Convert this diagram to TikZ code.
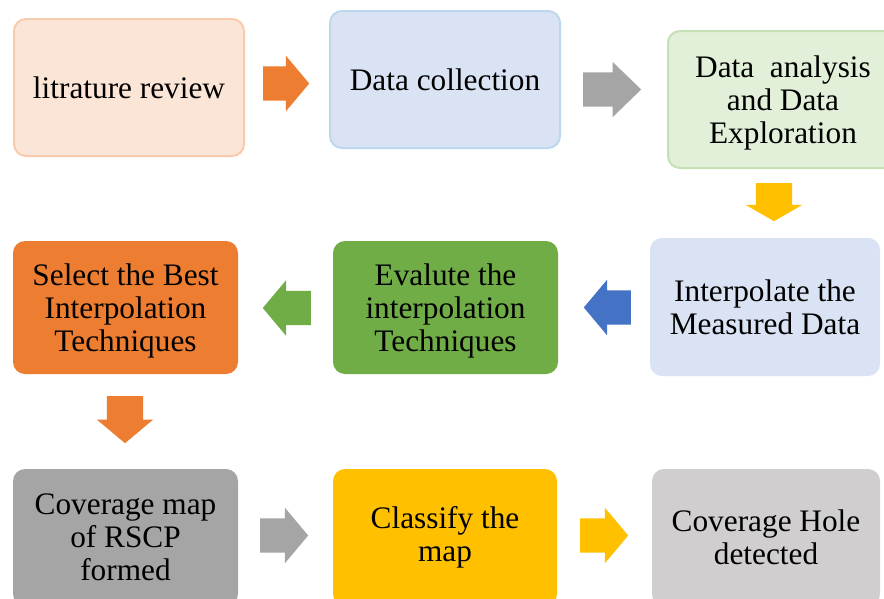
\documentclass[tikz,border=0pt]{standalone}
\usepackage{fontspec}
\setmainfont{Liberation Serif}
\usetikzlibrary{shapes.arrows}
\definecolor{peachF}{HTML}{FBE5D6}
\definecolor{peachD}{HTML}{F8CBAD}
\definecolor{blueF}{HTML}{DAE3F3}
\definecolor{blueD}{HTML}{BDD7EE}
\definecolor{greenF}{HTML}{E2F0D9}
\definecolor{greenD}{HTML}{C5E0B4}
\definecolor{accOrange}{HTML}{ED7D31}
\definecolor{accGreen}{HTML}{70AD47}
\definecolor{accGray}{HTML}{A5A5A5}
\definecolor{accYellow}{HTML}{FFC000}
\definecolor{accBlue}{HTML}{4472C4}
\definecolor{lightGray}{HTML}{D0CECE}
\tikzset{
  box/.style={rectangle, rounded corners=12pt, align=center, inner sep=0pt,
    font=\fontsize{31.3}{33}\selectfont, text=black},
  blockarrow/.style={single arrow, draw=none, inner xsep=0pt, inner ysep=17pt,
    single arrow head extend=10.5pt, anchor=tail}
}
\begin{document}
\begin{tikzpicture}[x=1pt,y=-1pt]
\useasboundingbox (0,0) rectangle (884,598);
\clip (0,0) rectangle (884,598);
\fill[white] (0,0) rectangle (884,598);
% boxes
\node[box, fill=peachF, draw=peachD, line width=2pt, minimum width=230pt, minimum height=137pt] (b1) at (129,87.5) {litrature review};
\node[box, fill=blueF, draw=blueD, line width=2pt, minimum width=230pt, minimum height=137pt] (b2) at (445,79.5) {Data collection};
\node[box, fill=greenF, draw=greenD, line width=2pt, minimum width=230pt, minimum height=137pt, text depth=0pt] (b3) at (783,99.5) {Data~~analysis\\and Data\\Exploration};
\node[box, fill=blueF, minimum width=230pt, minimum height=138pt] (b4) at (765,307) {Interpolate the\\Measured Data};
\node[box, fill=accGreen, minimum width=225pt, minimum height=133pt, text depth=0pt] (b5) at (445.5,307.5) {Evalute the\\interpolation\\Techniques};
\node[box, fill=accOrange, minimum width=225pt, minimum height=133pt, text depth=0pt] (b6) at (125.5,307.5) {Select the Best\\Interpolation\\Techniques};
\node[box, fill=accGray, minimum width=225pt, minimum height=137pt] (b7) at (125.5,537.5) {Coverage map\\of RSCP\\formed};
\node[box, fill=accYellow, minimum width=224pt, minimum height=137pt] (b8) at (445,537.5) {Classify the\\map};
\node[box, fill=lightGray, minimum width=228pt, minimum height=137pt] (b9) at (766,537.5) {Coverage Hole\\detected};
% block arrows (placed by their tails)
\node[blockarrow, fill=accOrange, minimum height=46pt, single arrow tip angle=100] (a1) at (263,83.5) {};
\node[blockarrow, fill=accGray, minimum height=58pt, single arrow tip angle=88] (a2) at (583,89.5) {};
\node[blockarrow, fill=accYellow, minimum height=38pt, inner ysep=18pt, single arrow head extend=10pt, single arrow tip angle=120, rotate=-90] (a3) at (774,183) {};
\node[blockarrow, fill=accBlue, minimum height=47pt, single arrow tip angle=100, rotate=180] (a4) at (631,307.5) {};
\node[blockarrow, fill=accGreen, minimum height=48pt, single arrow tip angle=100, rotate=180] (a5) at (311,308) {};
\node[blockarrow, fill=accOrange, minimum height=47pt, inner ysep=18pt, single arrow head extend=10pt, single arrow tip angle=100, rotate=-90] (a6) at (125,396) {};
\node[blockarrow, fill=accGray, minimum height=48pt, single arrow tip angle=100] (a7) at (260,535.5) {};
\node[blockarrow, fill=accYellow, minimum height=48pt, single arrow tip angle=100] (a8) at (580,535.5) {};
\end{tikzpicture}
\end{document}
